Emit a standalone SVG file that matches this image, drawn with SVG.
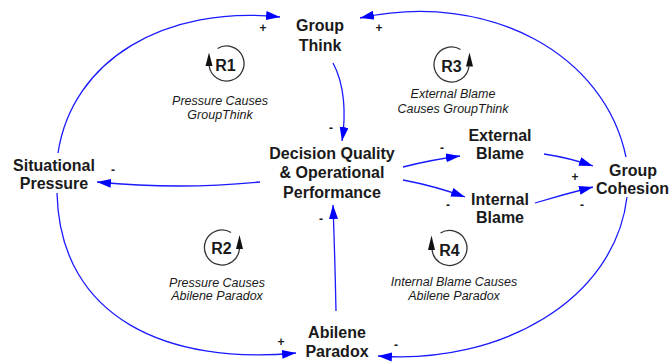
<svg xmlns="http://www.w3.org/2000/svg" width="669" height="362" viewBox="0 0 669 362">
<style>
  .node { font-family: "Liberation Sans", Arial, sans-serif; font-size: 16px; font-weight: bold; fill: #1a1a1a; text-anchor: middle; }
  .sign { font-family: "Liberation Sans", Arial, sans-serif; font-size: 12px; font-weight: bold; fill: #1a1a1a; text-anchor: middle; }
  .loopname { font-family: "Liberation Sans", Arial, sans-serif; font-size: 16px; font-weight: bold; fill: #1a1a1a; text-anchor: middle; }
  .looplabel { font-family: "Liberation Sans", Arial, sans-serif; font-size: 12.5px; font-style: italic; fill: #1a1a1a; text-anchor: middle; }
  .link { fill: none; stroke: #1a1aff; stroke-width: 1.3; marker-end: url(#arr); }
  .looparc { fill: none; stroke: #333333; stroke-width: 1.3; }
  .loophead { fill: #111111; }
</style>
<defs>
  <marker id="arr" markerUnits="userSpaceOnUse" markerWidth="15" markerHeight="10" refX="14" refY="4.5" orient="auto">
    <path d="M0,0 L14,4.5 L0,9 z" fill="#0000ff"/>
  </marker>
</defs>
<rect width="669" height="362" fill="#ffffff"/>

<g id="connectors">
  <path class="link" d="M58,153 C72,60 165,5 280,17"/>
  <path class="link" d="M626,157 C605,55 490,-10 360,18"/>
  <path class="link" d="M333,63 C345,85 346,115 342,141"/>
  <path class="link" d="M260,182 Q180,190 97,182"/>
  <path class="link" d="M403,167 Q430,160 460,156"/>
  <path class="link" d="M403,180 Q435,186 465,197"/>
  <path class="link" d="M544,154 Q570,158 593,166"/>
  <path class="link" d="M535,203 Q565,194 593,187"/>
  <path class="link" d="M336,311 Q335,260 333,205"/>
  <path class="link" d="M57,193 C60,320 170,365 296,353"/>
  <path class="link" d="M627,197 C615,300 500,365 378,356"/>
</g>

<g id="signs">
  <text class="sign" x="263" y="32">+</text>
  <text class="sign" x="379" y="32">+</text>
  <text class="sign" x="331" y="131.5">-</text>
  <text class="sign" x="113" y="174">-</text>
  <text class="sign" x="442" y="151.5">-</text>
  <text class="sign" x="448" y="208.5">-</text>
  <text class="sign" x="575" y="180.5">+</text>
  <text class="sign" x="582" y="208.5">-</text>
  <text class="sign" x="321" y="222.5">-</text>
  <text class="sign" x="281" y="346">+</text>
  <text class="sign" x="396" y="349">-</text>
</g>

<g id="group-think">
  <text class="node" x="320" y="31">Group</text>
  <text class="node" x="320" y="51">Think</text>
</g>
<g id="decision-quality">
  <text class="node" x="332" y="159">Decision Quality</text>
  <text class="node" x="332" y="178">&amp; Operational</text>
  <text class="node" x="332" y="197.5">Performance</text>
</g>
<g id="situational-pressure">
  <text class="node" x="54" y="170.5">Situational</text>
  <text class="node" x="54" y="189">Pressure</text>
</g>
<g id="external-blame">
  <text class="node" x="500" y="141">External</text>
  <text class="node" x="500" y="159">Blame</text>
</g>
<g id="internal-blame">
  <text class="node" x="500" y="205">Internal</text>
  <text class="node" x="500" y="223">Blame</text>
</g>
<g id="group-cohesion">
  <text class="node" x="633" y="176">Group</text>
  <text class="node" x="632.5" y="193.5">Cohesion</text>
</g>
<g id="abilene-paradox">
  <text class="node" x="337" y="338">Abilene</text>
  <text class="node" x="337" y="357">Paradox</text>
</g>

<g id="loop-r1">
  <path class="looparc" d="M217.5,48.5 A17.5,17.5 0 1 1 209.2,66"/>
  <polygon class="loophead" points="209,52.5 205.5,66 212.5,66"/>
  <text class="loopname" x="225.5" y="70.5">R1</text>
  <text class="looplabel" x="220" y="105">Pressure Causes</text>
  <text class="looplabel" x="220" y="119">GroupThink</text>
</g>
<g id="loop-r3">
  <path class="looparc" d="M460.5,49.5 A17.5,17.5 0 1 0 468.9,66.5"/>
  <polygon class="loophead" points="469.5,52.5 466,66.5 473,66.5"/>
  <text class="loopname" x="451.5" y="71.5">R3</text>
  <text class="looplabel" x="453" y="98">External Blame</text>
  <text class="looplabel" x="453" y="113">Causes GroupThink</text>
</g>
<g id="loop-r2">
  <path class="looparc" d="M231,232.5 A17.5,17.5 0 1 0 239.4,249"/>
  <polygon class="loophead" points="239.5,235 236,249 243,249"/>
  <text class="loopname" x="221.5" y="254">R2</text>
  <text class="looplabel" x="217" y="286.5">Pressure Causes</text>
  <text class="looplabel" x="217" y="300">Abilene Paradox</text>
</g>
<g id="loop-r4">
  <path class="looparc" d="M440.5,233 A17.5,17.5 0 1 1 432.1,250"/>
  <polygon class="loophead" points="431.5,235.5 428,250 435,250"/>
  <text class="loopname" x="449.5" y="255.5">R4</text>
  <text class="looplabel" x="454" y="285.5">Internal Blame Causes</text>
  <text class="looplabel" x="454" y="299.5">Abilene Paradox</text>
</g>
</svg>
